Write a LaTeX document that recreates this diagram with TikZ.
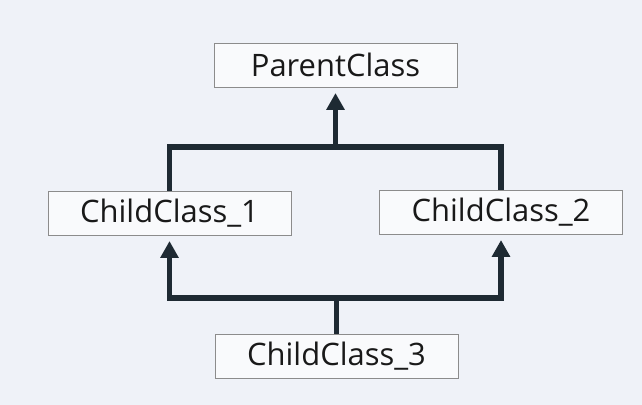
\documentclass[tikz,border=0pt]{standalone}
\usepackage{fontspec}
\setmainfont{Open Sans}
\usepackage{tikz}
\usetikzlibrary{calc}
\usetikzlibrary{arrows.meta}
\definecolor{bgblue}{HTML}{EFF2F8}
\definecolor{linkdark}{HTML}{1E2A33}
\definecolor{boxgray}{HTML}{8C8C8C}
\tikzset{
  classbox/.style={draw=boxgray,line width=0.6pt,fill=bgblue!40!white,minimum width=6.075cm,minimum height=1.1cm,inner sep=0pt,text=black!90,font=\fontsize{22}{26}\selectfont},
  link/.style={draw=linkdark,line width=3.6pt},
  linkarrow/.style={link,-{Triangle[length=12pt,width=12.5pt]},shorten >=4pt}
}
\begin{document}
\begin{tikzpicture}[x=0.025cm,y=-0.025cm]
		\fill[bgblue] (0,0) rectangle (642,405);
		\useasboundingbox (0,0) rectangle (642,405);
		\node[classbox](PC) at (335.5,65) {ParentClass};
		\node[classbox](C1) at (169.5,213) {ChildClass\_1};
		\node[classbox](C2) at (501,212) {ChildClass\_2};
		\node[classbox](C3) at (336.5,356) {ChildClass\_3};
		\coordinate(top) at (335.5,147);
		\coordinate(bot) at (336.5,298);
		
		\draw[link] (C1.north) |- (top) -| (C2.north);
		\draw[linkarrow] (top) -- (PC.south);
		\draw[link] (C3.north) -- (bot);
		\draw[linkarrow] (bot) -| (C1.south);
		\draw[linkarrow] (bot) -| (C2.south);
	\end{tikzpicture}
\end{document}
